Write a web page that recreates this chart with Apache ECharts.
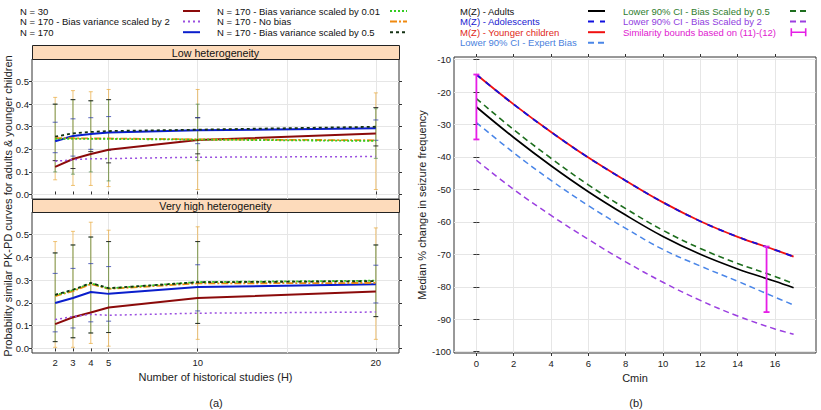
<!DOCTYPE html>
<html>
<head>
<meta charset="utf-8">
<script src="https://cdn.jsdelivr.net/npm/echarts@6/dist/echarts.min.js"></script>
<style>
  html, body { margin: 0; padding: 0; background: #fff; }
  #chart { width: 821px; height: 410px; }
</style>
</head>
<body>
<div id="chart"></div>
<script>
// ---- panel (a): number of historical studies ----
var studies = [2, 3, 4, 5, 10, 20];
var studyTicks = [2, 3, 4, 5, 10, 20];
var studyGrid = [5, 10, 15, 20];
var probTicks = [0, 0.1, 0.2, 0.3, 0.4, 0.5];

// low heterogeneity
var lowN30 = [0.122, 0.157, 0.179, 0.198, 0.241, 0.270];
var lowN170 = [0.236, 0.259, 0.268, 0.275, 0.284, 0.293];
var lowBias2 = [0.147, 0.154, 0.158, 0.159, 0.165, 0.168];
var lowBias001 = [0.246, 0.247, 0.246, 0.246, 0.243, 0.237];
var lowNoBias = [0.250, 0.249, 0.248, 0.248, 0.244, 0.240];
var lowBias05 = [0.256, 0.271, 0.277, 0.281, 0.287, 0.300];

var lowNoBiasLo = [0.065, 0.040, 0.040, 0.035, 0.022, 0.022];
var lowNoBiasHi = [0.430, 0.460, 0.455, 0.465, 0.465, 0.450];
var lowBias001Lo = [0.100, 0.090, 0.100, 0.060, 0.150, 0.160];
var lowBias001Hi = [0.400, 0.420, 0.415, 0.420, 0.400, 0.380];
var lowBias05Lo = [0.150, 0.115, 0.190, 0.140, 0.180, 0.215];
var lowBias05Hi = [0.400, 0.420, 0.415, 0.420, 0.340, 0.385];
var lowN170Lo = [0.185, 0.170, 0.200, 0.195, 0.225, 0.240];
var lowN170Hi = [0.320, 0.335, 0.340, 0.345, 0.340, 0.330];

// very high heterogeneity
var highN30 = [0.107, 0.137, 0.158, 0.180, 0.222, 0.250];
var highN170 = [0.200, 0.222, 0.248, 0.240, 0.270, 0.282];
var highBias2 = [0.127, 0.140, 0.150, 0.146, 0.155, 0.160];
var highBias001 = [0.234, 0.256, 0.287, 0.264, 0.292, 0.298];
var highNoBias = [0.230, 0.252, 0.283, 0.262, 0.286, 0.288];
var highBias05 = [0.236, 0.258, 0.288, 0.265, 0.291, 0.296];

var highNoBiasLo = [0.005, 0.005, 0.022, 0.010, 0.040, 0.040];
var highNoBiasHi = [0.470, 0.515, 0.555, 0.520, 0.535, 0.530];
var highBias001Lo = [0.030, 0.047, 0.068, 0.070, 0.110, 0.140];
var highBias001Hi = [0.420, 0.455, 0.490, 0.470, 0.470, 0.455];
var highN170Lo = [0.073, 0.090, 0.117, 0.120, 0.165, 0.200];
var highN170Hi = [0.330, 0.352, 0.373, 0.360, 0.368, 0.366];

// ---- panel (b): Cmin ----
var cmin = [0, 2, 4, 6, 8, 10, 12, 14, 16, 17];
var cminTicks = [0, 2, 4, 6, 8, 10, 12, 14, 16];
var changeTicks = [-100, -90, -80, -70, -60, -50, -40, -30, -20, -10];
var mzChildren = [-14.6, -23.8, -32.3, -40.2, -47.3, -54.0, -59.8, -64.6, -68.6, -70.7];
var mzAdolescents = [-14.6, -23.8, -32.3, -40.2, -47.3, -54.0, -59.8, -64.6, -68.6, -70.7];
var mzAdults = [-24.6, -34.0, -42.7, -50.7, -57.9, -64.5, -70.0, -74.5, -78.3, -80.3];
var ciBias05 = [-22.0, -31.6, -40.4, -48.6, -55.9, -62.6, -68.2, -72.8, -76.8, -79.1];
var ciExpert = [-29.4, -38.7, -47.2, -55.0, -62.0, -68.5, -73.6, -78.3, -83.2, -85.6];
var ciBias2 = [-41.0, -50.0, -58.0, -65.4, -72.3, -78.6, -84.2, -89.0, -93.0, -94.6];
var boundX = [0, 15.55];
var boundLo = [-34.6, -87.8];
var boundHi = [-14.6, -67.6];

var FONT = 'Liberation Sans, Arial, sans-serif';

function pairs(xs, ys) {
  return xs.map(function (x, i) { return [x, ys[i]]; });
}
function triples(xs, lo, hi) {
  return xs.map(function (x, i) { return [x, lo[i], hi[i]]; });
}

function errorBar(color, opacity, shaft, capW, lw) {
  return function (params, api) {
    var x = api.value(0);
    var lo = api.coord([x, api.value(1)]);
    var hi = api.coord([x, api.value(2)]);
    var st = { stroke: color, lineWidth: lw || 1, opacity: opacity };
    var kids = [];
    if (shaft) kids.push({ type: 'line', shape: { x1: lo[0], y1: lo[1], x2: hi[0], y2: hi[1] }, style: st });
    kids.push({ type: 'line', shape: { x1: lo[0] - capW, y1: lo[1], x2: lo[0] + capW, y2: lo[1] }, style: st });
    kids.push({ type: 'line', shape: { x1: hi[0] - capW, y1: hi[1], x2: hi[0] + capW, y2: hi[1] }, style: st });
    return { type: 'group', children: kids };
  };
}

var leftLines = [
  { name: 'N = 30', color: '#8B0A0A', type: 'solid', width: 2, low: lowN30, high: highN30 },
  { name: 'N = 170 - Bias variance scaled by 2', color: '#9A4FE0', type: [2, 3], width: 1.5, low: lowBias2, high: highBias2 },
  { name: 'N = 170', color: '#0A1ECC', type: 'solid', width: 2, low: lowN170, high: highN170 },
  { name: 'N = 170 - No bias', color: '#F08A10', type: [7, 2, 2, 2], width: 1.8, low: lowNoBias, high: highNoBias },
  { name: 'N = 170 - Bias variance scaled by 0.01', color: '#33CC22', type: [2, 2], width: 1.8, low: lowBias001, high: highBias001 },
  { name: 'N = 170 - Bias variance scaled by 0.5', color: '#143214', type: [3, 3], width: 1.8, low: lowBias05, high: highBias05 }
];

var series = [];

// error bars (drawn first so lines sit on top)
function addErr(xi, yi, lo, hi, color, op, shaft, cap) {
  series.push({
    type: 'custom', xAxisIndex: xi, yAxisIndex: yi, silent: true, z: 1,
    data: triples(studies, lo, hi), encode: { x: 0, y: [1, 2] },
    renderItem: errorBar(color, op, shaft, cap)
  });
}
addErr(0, 0, lowNoBiasLo, lowNoBiasHi, '#E8A93C', 0.7, true, 2);
addErr(0, 0, lowBias001Lo, lowBias001Hi, '#4F8C50', 0.7, true, 2);
addErr(0, 0, lowBias05Lo, lowBias05Hi, '#1A1A1A', 0.85, false, 2.5);
addErr(0, 0, lowN170Lo, lowN170Hi, '#2A3AAA', 0.75, false, 2.5);
addErr(2, 2, highNoBiasLo, highNoBiasHi, '#E8A93C', 0.7, true, 2);
addErr(2, 2, highBias001Lo, highBias001Hi, '#4F8C50', 0.7, true, 2);
addErr(2, 2, highBias001Lo, highBias001Hi, '#1A1A1A', 0.85, false, 2.5);
addErr(2, 2, highN170Lo, highN170Hi, '#2A3AAA', 0.75, false, 2.5);

leftLines.forEach(function (s) {
  [[0, s.low], [2, s.high]].forEach(function (p) {
    series.push({
      type: 'line', name: s.name, xAxisIndex: p[0], yAxisIndex: p[0],
      data: pairs(studies, p[1]), symbol: 'none', z: 3,
      lineStyle: { color: s.color, type: s.type, width: s.width },
      itemStyle: { color: s.color }
    });
  });
});

// panel (b)
function addCurve(name, ys, color, type, width, z) {
  series.push({
    type: 'line', name: name, xAxisIndex: 4, yAxisIndex: 4,
    data: pairs(cmin, ys), symbol: 'none', smooth: 0.4, z: z || 3,
    lineStyle: { color: color, type: type, width: width },
    itemStyle: { color: color }
  });
}
addCurve('M(Z) - Adults', mzAdults, '#000000', 'solid', 1.7);
addCurve('M(Z) - Younger children', mzChildren, '#F01010', 'solid', 1.8, 3);
addCurve('M(Z) - Adolescents', mzAdolescents, '#1010E0', [6, 6], 1.8, 4);
addCurve('Lower 90% CI - Expert Bias', ciExpert, '#4A86E8', [6, 4], 1.5);
addCurve('Lower 90% CI - Bias Scaled by 0.5', ciBias05, '#1E6E1E', [6, 4], 1.6);
addCurve('Lower 90% CI - Bias Scaled by 2', ciBias2, '#9B3FE0', [6, 4], 1.5);
series.push({
  type: 'custom', name: 'Similarity bounds based on (11)-(12)', xAxisIndex: 4, yAxisIndex: 4,
  silent: true, z: 5, data: triples(boundX, boundLo, boundHi), encode: { x: 0, y: [1, 2] },
  itemStyle: { color: '#E61EE6' },
  renderItem: errorBar('#E61EE6', 1, true, 3, 1.8)
});

function probAxis(gridIndex, pos, labels) {
  return {
    type: 'value', gridIndex: gridIndex, position: pos, min: -0.02, max: 0.6,
    axisLine: { show: false },
    axisTick: { show: true, length: 3, lineStyle: { color: '#333' }, customValues: probTicks },
    axisLabel: { show: labels, margin: 3, customValues: probTicks, formatter: function (v) { return v.toFixed(1); }, fontFamily: FONT, fontSize: 9.5, color: '#222' },
    splitLine: { show: labels, lineStyle: { color: '#E6E6E6', width: 1 } }
  };
}
function studyAxis(gridIndex, pos, ticks, labels, offset) {
  return {
    type: 'value', gridIndex: gridIndex, position: pos, min: 0.7, max: 21.3, offset: offset || 0,
    axisLine: { show: false },
    axisTick: { show: ticks, length: 3, lineStyle: { color: '#333' }, customValues: studyTicks },
    axisLabel: { show: labels, margin: 4, customValues: studyTicks, fontFamily: FONT, fontSize: 9.5, color: '#222' },
    splitLine: { show: false }
  };
}
function studyGridAxis(gridIndex, pos) {
  return {
    type: 'value', gridIndex: gridIndex, position: pos, min: 0.7, max: 21.3,
    axisLine: { show: false },
    axisTick: { show: false, customValues: studyGrid },
    axisLabel: { show: false, customValues: studyGrid },
    splitLine: { show: true, lineStyle: { color: '#E6E6E6', width: 1 } }
  };
}

var xAxes = [
  studyAxis(0, 'top', true, false, 14),
  studyGridAxis(0, 'bottom'),
  studyAxis(1, 'bottom', true, true, 0),
  studyGridAxis(1, 'top'),
  {
    type: 'value', gridIndex: 2, position: 'bottom', min: -1.2, max: 18.2,
    name: 'Cmin', nameLocation: 'middle', nameGap: 18,
    nameTextStyle: { fontFamily: FONT, fontSize: 11, color: '#222' },
    axisLine: { show: false },
    axisTick: { length: 3, lineStyle: { color: '#333' }, customValues: cminTicks },
    axisLabel: { margin: 5, customValues: cminTicks, fontFamily: FONT, fontSize: 9.5, color: '#222' },
    splitLine: { show: true, lineStyle: { color: '#E6E6E6' } }
  },
  {
    type: 'value', gridIndex: 2, position: 'top', min: -1.2, max: 18.2,
    axisLine: { show: false },
    axisTick: { length: 3, lineStyle: { color: '#333' }, customValues: cminTicks },
    axisLabel: { show: false, customValues: cminTicks },
    splitLine: { show: false }
  }
];
xAxes[2].name = 'Number of historical studies (H)';
xAxes[2].nameLocation = 'middle';
xAxes[2].nameGap = 18;
xAxes[2].nameTextStyle = { fontFamily: FONT, fontSize: 11, color: '#222' };

var yAxes = [
  probAxis(0, 'left', true),
  probAxis(0, 'right', false),
  probAxis(1, 'left', true),
  probAxis(1, 'right', false),
  {
    type: 'value', gridIndex: 2, position: 'left', min: -100.4, max: -9.2,
    name: 'Median % change in seizure frequency', nameLocation: 'middle', nameGap: 27,
    nameTextStyle: { fontFamily: FONT, fontSize: 11, color: '#222' },
    axisLine: { show: false },
    axisTick: { length: 3, lineStyle: { color: '#333' }, customValues: changeTicks },
    axisLabel: { margin: 3, customValues: changeTicks, fontFamily: FONT, fontSize: 9.5, color: '#222' },
    splitLine: { show: true, lineStyle: { color: '#E6E6E6' } }
  },
  {
    type: 'value', gridIndex: 2, position: 'right', min: -100.4, max: -9.2,
    axisLine: { show: false },
    axisTick: { length: 3, lineStyle: { color: '#333' }, customValues: changeTicks },
    axisLabel: { show: false, customValues: changeTicks },
    splitLine: { show: false }
  }
];

function legendBox(left, names, textW) {
  return {
    left: left, top: 6, orient: 'vertical', align: 'right',
    itemWidth: 17, itemHeight: 8, itemGap: 0.6, padding: 0,
    itemStyle: { opacity: 0 },
    data: names,
    formatter: function (n) { return '{t|' + n + '}'; },
    textStyle: {
      fontFamily: FONT, fontSize: 9.5, color: '#111', lineHeight: 9,
      rich: { t: { width: textW, align: 'left', fontFamily: FONT, fontSize: 9.5, lineHeight: 9 } }
    }
  };
}

var boundIcon = 'path://M0,4h20v2h-20z M0,0h2v10h-2z M18,0h2v10h-2z';

var option = {
  animation: false,
  backgroundColor: '#ffffff',
  grid: [
    { left: 32, width: 367, top: 59, height: 140, show: true, borderColor: '#333', borderWidth: 1, backgroundColor: '#fff' },
    { left: 32, width: 367, top: 212, height: 141, show: true, borderColor: '#333', borderWidth: 1, backgroundColor: '#fff' },
    { left: 454, width: 362, top: 57, height: 296, show: true, borderColor: '#333', borderWidth: 1, backgroundColor: '#fff' }
  ],
  legend: [
    legendBox(20, ['N = 30', 'N = 170 - Bias variance scaled by 2', 'N = 170'], 158),
    legendBox(217, ['N = 170 - Bias variance scaled by 0.01', 'N = 170 - No bias', 'N = 170 - Bias variance scaled by 0.5'], 168),
    legendBox(460, [
      { name: 'M(Z) - Adults', textStyle: { color: '#111' } },
      { name: 'M(Z) - Adolescents', textStyle: { color: '#2020D0' } },
      { name: 'M(Z) - Younger children', textStyle: { color: '#E02818' } },
      { name: 'Lower 90% CI - Expert Bias', textStyle: { color: '#4A7FDD' } }
    ], 123),
    legendBox(623, [
      { name: 'Lower 90% CI - Bias Scaled by 0.5', textStyle: { color: '#2E7D2E' } },
      { name: 'Lower 90% CI - Bias Scaled by 2', textStyle: { color: '#9040E0' } },
      { name: 'Similarity bounds based on (11)-(12)', textStyle: { color: '#E020D0' }, icon: boundIcon, itemStyle: { color: '#E61EE6', opacity: 1 } }
    ], 162)
  ],
  xAxis: xAxes,
  yAxis: yAxes,
  series: series,
  graphic: [
    { type: 'rect', left: 32, top: 45, shape: { width: 367, height: 14 }, style: { fill: '#FDDBBB', stroke: '#222', lineWidth: 1 }, z: 10 },
    { type: 'text', x: 215.5, y: 52.5, style: { text: 'Low heterogeneity', font: '10.7px ' + FONT, fill: '#111', textAlign: 'center', textVerticalAlign: 'middle' }, z: 11 },
    { type: 'rect', left: 32, top: 199, shape: { width: 367, height: 13 }, style: { fill: '#FDDBBB', stroke: '#222', lineWidth: 1 }, z: 10 },
    { type: 'text', x: 215.5, y: 205.5, style: { text: 'Very high heterogeneity', font: '10.7px ' + FONT, fill: '#111', textAlign: 'center', textVerticalAlign: 'middle' }, z: 11 },
    { type: 'text', x: 8, y: 206, rotation: Math.PI / 2, style: { text: 'Probability similar PK-PD curves for adults & younger children', font: '11px ' + FONT, fill: '#222', textAlign: 'center', textVerticalAlign: 'middle' } },
    { type: 'text', x: 216, y: 403, style: { text: '(a)', font: '11px ' + FONT, fill: '#222', textAlign: 'center', textVerticalAlign: 'middle' } },
    { type: 'text', x: 636, y: 403, style: { text: '(b)', font: '11px ' + FONT, fill: '#222', textAlign: 'center', textVerticalAlign: 'middle' } }
  ]
};

var chart = echarts.init(document.getElementById('chart'), null, { renderer: 'svg' });
chart.setOption(option);
</script>
</body>
</html>
